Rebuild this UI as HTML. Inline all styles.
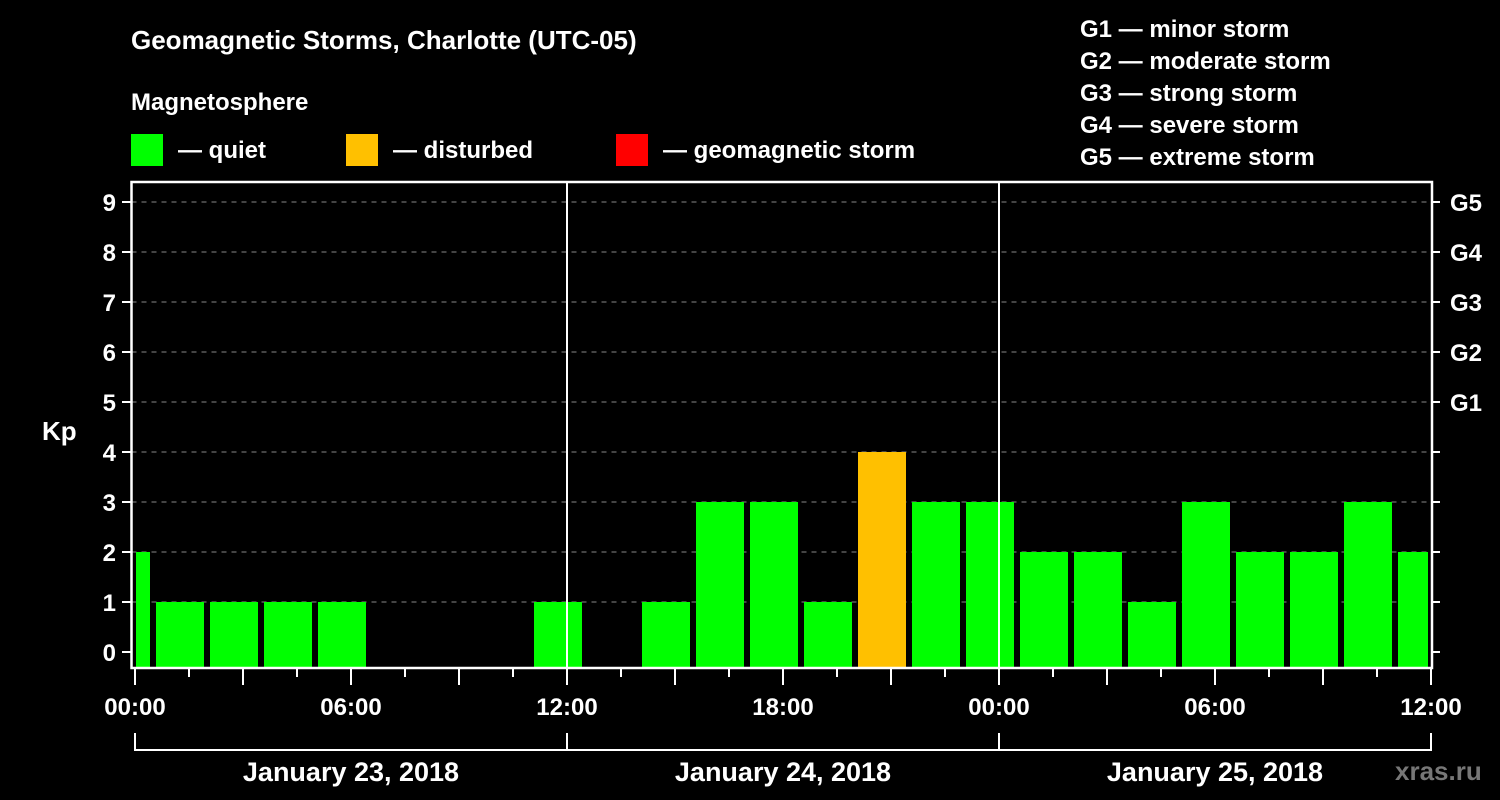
<!DOCTYPE html>
<html><head><meta charset="utf-8"><style>
body{margin:0;background:#000;}
svg{display:block;font-family:"Liberation Sans",sans-serif;font-weight:bold;}
</style></head><body>
<svg id="chart" width="1500" height="800" viewBox="0 0 1500 800">
<text x="131" y="49" fill="#fff" font-size="26">Geomagnetic Storms, Charlotte (UTC-05)</text>
<text x="131" y="110" fill="#fff" font-size="24">Magnetosphere</text>
<rect x="131" y="134" width="32" height="32" fill="#00ff00"/>
<text x="178" y="158" fill="#fff" font-size="24">— quiet</text>
<rect x="346" y="134" width="32" height="32" fill="#ffc000"/>
<text x="393" y="158" fill="#fff" font-size="24">— disturbed</text>
<rect x="616" y="134" width="32" height="32" fill="#ff0000"/>
<text x="663" y="158" fill="#fff" font-size="24">— geomagnetic storm</text>
<g fill="#fff" font-size="24">
<text x="1080" y="37">G1 — minor storm</text>
<text x="1080" y="69">G2 — moderate storm</text>
<text x="1080" y="101">G3 — strong storm</text>
<text x="1080" y="133">G4 — severe storm</text>
<text x="1080" y="165">G5 — extreme storm</text>
</g>
<text x="42" y="440" fill="#fff" font-size="26">Kp</text>
<text x="1395" y="780" fill="#777" font-size="26">xras.ru</text>
<g id="grid"></g><g id="bars"></g><g id="axes"></g>
</svg>
<script>
const kpValues=[2,1,1,1,1,0,0,0,1,0,1,3,3,1,4,3,3,2,2,1,3,2,2,3,2];
const startHours=kpValues.map((v,i)=>-2+3*i);
const yTicks=[0,1,2,3,4,5,6,7,8,9];
const gLabels=["G1","G2","G3","G4","G5"];
const xTickLabels=["00:00","06:00","12:00","18:00","00:00","06:00","12:00","18:00","00:00","06:00","12:00","18:00","00:00"];
const dayLabels=["January 23, 2018","January 24, 2018","January 25, 2018"];
const NS="http://www.w3.org/2000/svg";
const X=h=>135+18*h, Y=v=>652-50*v;
const L=131.5,R=1432,T=182,B=668;
function mk(p,tag,a){const e=document.createElementNS(NS,tag);for(const k in a)e.setAttribute(k,a[k]);p.appendChild(e);return e;}
const grid=document.getElementById('grid'),bars=document.getElementById('bars'),axes=document.getElementById('axes');
yTicks.forEach(v=>{if(v>0){const g=mk(grid,'line',{x1:L,x2:R,y1:Y(v),y2:Y(v),stroke:'#888','stroke-dasharray':'5,5','stroke-width':1});

}
const t=mk(axes,'line',{x1:122,x2:L,y1:Y(v),y2:Y(v),stroke:'#fff','stroke-width':2});


mk(axes,'line',{x1:R,x2:1440,y1:Y(v),y2:Y(v),stroke:'#fff','stroke-width':2});
const lb=mk(axes,'text',{x:116,y:Y(v)+9,fill:'#fff','font-size':24,'text-anchor':'end'});lb.textContent=v;

});
gLabels.forEach((g,i)=>{const t=mk(axes,'text',{x:1450,y:Y(5+i)+9,fill:'#fff','font-size':24});t.textContent=g;

});
kpValues.forEach((v,i)=>{if(v<=0)return;let x1=Math.max(X(startHours[i])+3,136),x2=Math.min(X(startHours[i]+3)-3,1428);
const col=v>=5?'#ff0000':v>=4?'#ffc000':'#00ff00';
const r=mk(bars,'rect',{x:x1,y:Y(v),width:x2-x1,height:B-Y(v),fill:col});

});
[1,2].forEach(d=>{const l=mk(axes,'line',{x1:X(24*d),x2:X(24*d),y1:T,y2:B,stroke:'#fff','stroke-width':2});

});
const f=mk(axes,'rect',{x:L,y:T,width:R-L,height:B-T,fill:'none',stroke:'#fff','stroke-width':2.5});


for(let h=0;h<=72;h+=3){const major=h%6===0;mk(axes,'line',{x1:X(h),x2:X(h),y1:B,y2:B+(major?17:9),stroke:'#fff','stroke-width':2});}
xTickLabels.forEach((s,i)=>{const t=mk(axes,'text',{x:X(6*i*2),y:715,fill:'#fff','font-size':24,'text-anchor':'middle'});t.textContent=s;

});
mk(axes,'line',{x1:X(0),x2:X(72),y1:750,y2:750,stroke:'#fff','stroke-width':2});
for(let d=0;d<=3;d++)mk(axes,'line',{x1:X(24*d),x2:X(24*d),y1:733,y2:751,stroke:'#fff','stroke-width':2});
dayLabels.forEach((s,i)=>{const t=mk(axes,'text',{x:X(24*i+12),y:781,fill:'#fff','font-size':27,'text-anchor':'middle'});t.textContent=s;

});
</script>
</body></html>
